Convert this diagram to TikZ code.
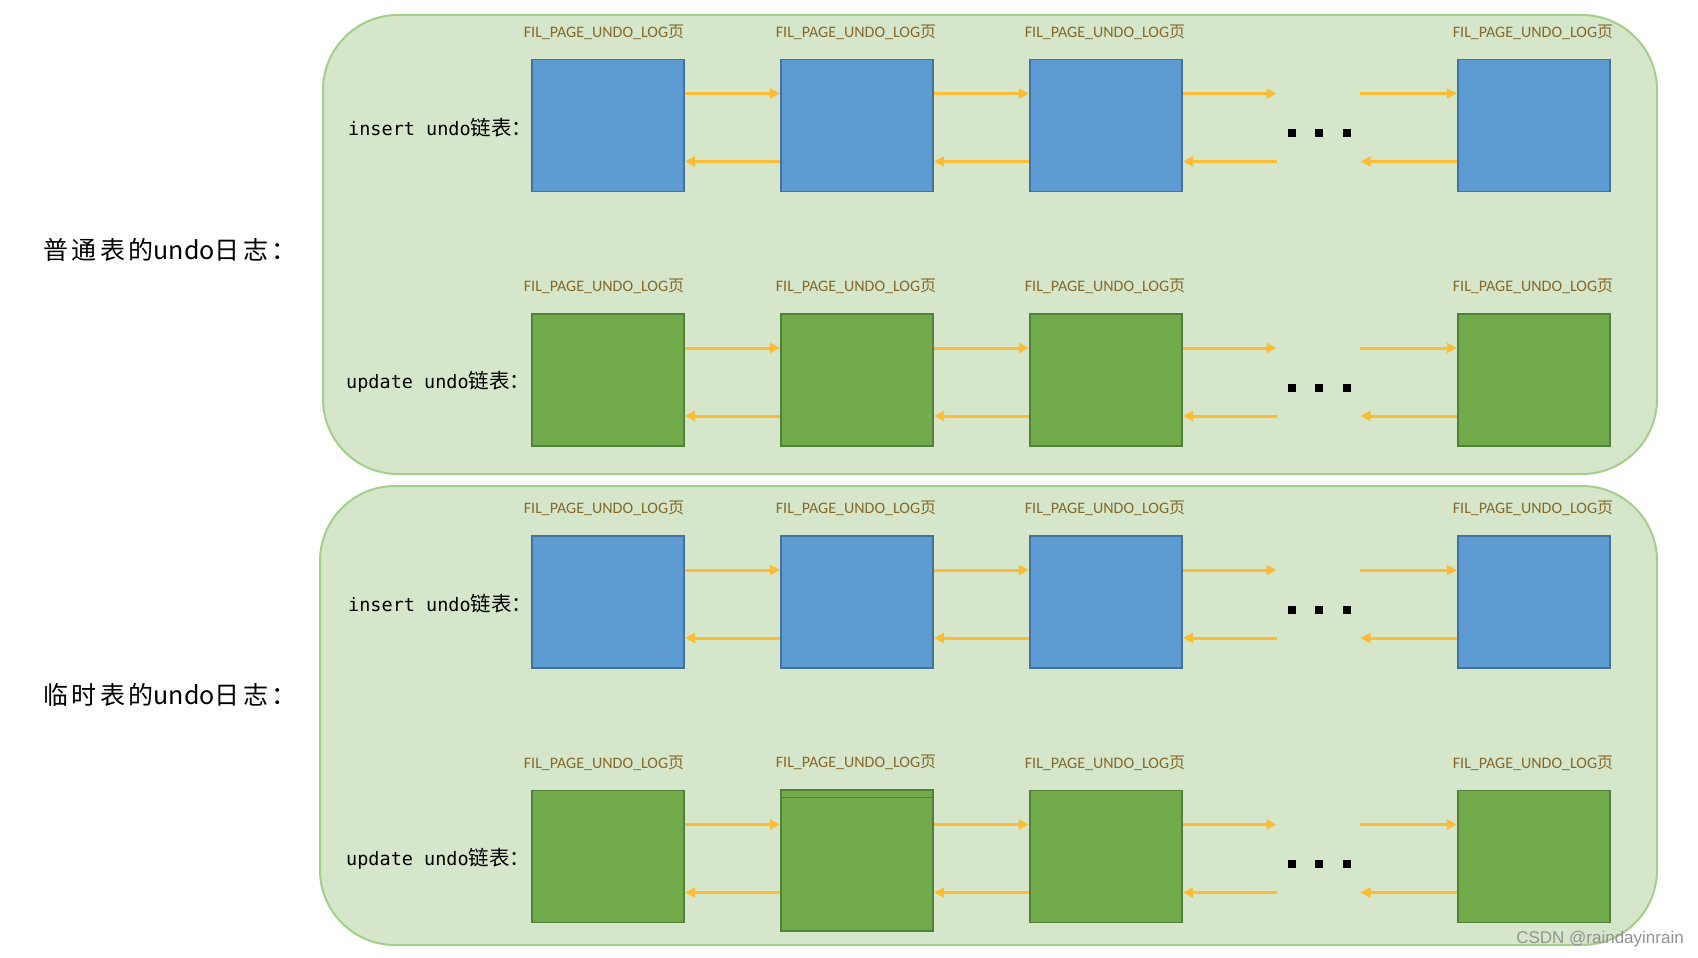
\documentclass[tikz,border=0pt]{standalone}
\usepackage{fontspec}
\setmainfont{Carlito}
\newfontfamily\cjk{Noto Sans CJK SC}
\newfontfamily\cjkw[LetterSpace=14]{Noto Sans CJK SC}
\newfontfamily\monof{DejaVu Sans Mono}
\newfontfamily\wmfont{Liberation Sans}
\usetikzlibrary{arrows.meta}
\definecolor{panelfill}{HTML}{D5E6CB}
\definecolor{panelline}{HTML}{A3CF8A}
\definecolor{bluefill}{HTML}{5E9BD3}
\definecolor{blueline}{HTML}{44729E}
\definecolor{greenfill}{HTML}{71AB4B}
\definecolor{greenline}{HTML}{52803A}
\definecolor{arrowc}{HTML}{FCBC33}
\definecolor{labc}{HTML}{85692A}
\tikzset{
  panel/.style={draw=panelline, fill=panelfill, line width=2pt, rounded corners=75pt},
  page/.style={draw=#1line, fill=#1fill, line width=1.3pt, minimum width=152pt, minimum height=132pt, inner sep=0pt},
  arr/.style={draw=arrowc, line width=3pt, -{Triangle[length=10pt,width=10pt]}, shorten >=0.5pt},
  pagelab/.style={text=labc, font=\fontsize{16}{18}\selectfont, inner sep=0pt},
  rowlab/.style={font=\fontsize{18.5}{21}\selectfont, anchor=west, inner sep=0pt},
  sidelab/.style={font=\fontsize{25}{28}\selectfont, anchor=west, inner sep=0pt},
  dot/.style={fill=black, minimum size=8pt, inner sep=0pt},
  wm/.style={font=\wmfont\fontsize{17}{19}\selectfont, text=gray!85, anchor=east, inner sep=0pt}
}
\begin{document}
\begin{tikzpicture}[x=1pt,y=-1pt]
\useasboundingbox[fill=white] (0,0) rectangle (1698,958);
\node[panel, minimum width=1334pt, minimum height=459pt, inner sep=0pt] (p1) at (990,244.5) {};
\node[panel, minimum width=1337pt, minimum height=459pt, inner sep=0pt] (p2) at (988.5,715.5) {};
\node[sidelab] (s1) at (43,250) {{\cjkw 普通表的}{\cjk undo}{\cjkw 日志：}};
\node[sidelab] (s2) at (43,695) {{\cjkw 临时表的}{\cjk undo}{\cjkw 日志：}};
\foreach \r/\y/\c/\t/\lx in {1/125.5/blue/insert/348,2/380/green/update/346,3/602/blue/insert/348,4/856.5/green/update/346}{
  \foreach \k/\x in {1/608,2/857,3/1106,5/1534}{
    \node[page=\c] (b\r\k) at (\x,\y) {};
  }
  \node[rowlab] (r\r) at (\lx,\y+2) {{\monof \t\ undo}{\cjk\fontsize{20.5}{22}\selectfont 链表：}};
  \coordinate (ga\r) at (1277,\y);
  \coordinate (gb\r) at (1360,\y);
  \node[dot] (da\r) at (1292,\y+7.5) {};
  \node[dot] (db\r) at (1319,\y+7.5) {};
  \node[dot] (dc\r) at (1347,\y+7.5) {};
}
% special box in last row
\node[page=green, minimum height=141pt] (b42) at (857,860.5) {};
\draw[greenline, line width=1.3pt] ([yshift=-8pt]b42.north west) -- ([yshift=-8pt]b42.north east);
\foreach \r in {1,2,3,4}{
  \foreach \k/\dx in {1/-4,2/-1,3/-1,5/-1}{
    \node[pagelab] (l\r\k) at ([xshift=\dx pt,yshift=27pt]b\r\k.north) {FIL\_PAGE\_UNDO\_LOG{\cjk 页}};
  }
  \draw[arr] ([yshift=32pt]b\r1.east) -- ([yshift=32pt]b\r1.east -| b\r2.west);
  \draw[arr] ([yshift=32pt]b\r1.east -| b\r2.east) -- ([yshift=32pt]b\r1.east -| b\r3.west);
  \draw[arr] ([yshift=32pt]b\r1.east -| b\r3.east) -- ([yshift=32pt]ga\r);
  \draw[arr] ([yshift=32pt]gb\r) -- ([yshift=32pt]b\r1.east -| b\r5.west);
  \draw[arr] ([yshift=-36pt]b\r1.east -| b\r2.west) -- ([yshift=-36pt]b\r1.east);
  \draw[arr] ([yshift=-36pt]b\r1.east -| b\r3.west) -- ([yshift=-36pt]b\r1.east -| b\r2.east);
  \draw[arr] ([yshift=-36pt]ga\r) -- ([yshift=-36pt]b\r1.east -| b\r3.east);
  \draw[arr] ([yshift=-36pt]b\r1.east -| b\r5.west) -- ([yshift=-36pt]gb\r);
}
\node[wm] (w) at (1684,939) {CSDN @raindayinrain};
\end{tikzpicture}
\end{document}
